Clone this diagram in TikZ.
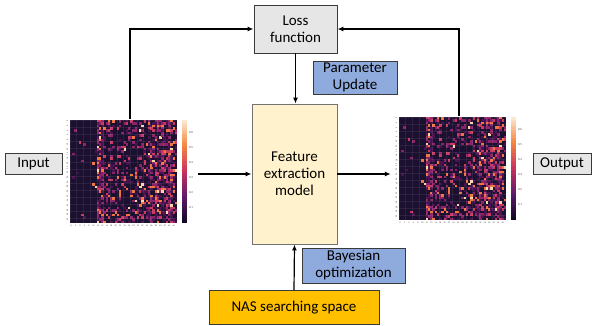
\documentclass[tikz,border=0pt]{standalone}
\usepackage{fontspec}
\setmainfont{Carlito}
\usetikzlibrary{arrows.meta}

\definecolor{lossgray}{HTML}{E7E6E6}
\definecolor{parblue}{HTML}{8FAADC}
\definecolor{featcream}{HTML}{FFF2CC}
\definecolor{nasorange}{HTML}{FFC000}
\definecolor{edgegray}{HTML}{3A3A3A}
% heatmap colours
\definecolor{hm0}{HTML}{1C1030}
\definecolor{hm1}{HTML}{4A1250}
\definecolor{hm2}{HTML}{8C2369}
\definecolor{hm3}{HTML}{C8385F}
\definecolor{hm4}{HTML}{EE7440}
\definecolor{hm5}{HTML}{FAD6A6}
% colour bar stops
\definecolor{cb0}{HTML}{FCEBD6}
\definecolor{cb1}{HTML}{F3863F}
\definecolor{cb2}{HTML}{C8305E}
\definecolor{cb3}{HTML}{5E1A6B}
\definecolor{cb4}{HTML}{10081F}

% one heatmap with its colour bar, top left corner at #1
\newcommand{\drawheatmap}[1]{%
  \begin{scope}[shift={(#1)}]
    \pgfmathsetseed{1234}
    \fill[hm0] (0,0) rectangle (107,103);
    \foreach \c in {0,...,47}{
      \pgfmathsetmacro{\p}{ifthenelse(\c<12,0.02,ifthenelse(\c<15,0.75,ifthenelse(\c<35,0.3,ifthenelse(\c<46,0.6,0.3))))}
      \foreach \r in {0,...,43}{
        \pgfmathsetmacro{\s}{rnd}
        \pgfmathsetmacro{\t}{rnd}
        \pgfmathtruncatemacro{\k}{\s<\p ? (\t<0.35 ? 1 : (\t<0.65 ? 2 : (\t<0.85 ? 3 : (\t<0.97 ? 4 : 5)))) : 0}
        \ifnum\k>0
          \fill[hm\k] ({\c*107/48},{\r*103/44}) rectangle ++({107/48+0.2},{103/44+0.2});
        \fi
      }
    }
    % faint grid
    \foreach \c in {0,3,...,48}
      \draw[gridline] ({\c*107/48},0) -- ++(0,103);
    \foreach \r in {0,3,...,42}
      \draw[gridline] (0,{\r*103/44}) -- ++(107,0);
    % tick labels
    \foreach \c in {0,2,...,46}
      \node[ticklbl] at ({(\c+0.5)*107/48},106) {\c};
    \foreach \r in {0,2,...,42}
      \node[ticklbl, rotate=90] at (-2.5,{(\r+0.5)*103/44}) {\r};
    % colour bar
    \foreach \seg/\ca/\cb in {0/cb0/cb1,1/cb1/cb2,2/cb2/cb3,3/cb3/cb4}{
      \foreach \i in {0,...,9}{
        \pgfmathtruncatemacro{\pc}{95-\i*10}
        \fill[\ca!\pc!\cb] (112,{(\seg*10+\i)*103/40}) rectangle ++(5,{103/40+0.15});
      }
    }
    \foreach \v [count=\n] in {0.6,0.5,0.4,0.3,0.2,0.1}
      \node[barlbl] at (121,{12+(\n-1)*15.2}) {\v};
  \end{scope}}

\begin{document}
\begin{tikzpicture}[x=1pt, y=-1pt,
    box/.style={draw=edgegray, line width=0.9, inner sep=1, align=center,
      font=\fontsize{15}{17}\selectfont},
    greybox/.style={box, fill=lossgray},
    bluebox/.style={box, fill=parblue},
    figbox/.style={minimum width=136, minimum height=110, inner sep=0},
    flow/.style={line width=1.2, -{Latex[length=6,width=5]}},
    gridline/.style={white, opacity=0.07, line width=0.4},
    ticklbl/.style={inner sep=0, text=black!75, font=\fontsize{2.2}{2.2}\selectfont},
    barlbl/.style={inner sep=0, text=black!75, font=\fontsize{3}{3}\selectfont}]
	\useasboundingbox (0,0) rectangle (593,325);

	% Boxes
	\node[greybox, minimum width=83, minimum height=48] (loss) at (295.5,29) {Loss\\function};
	\node[bluebox, minimum width=84, minimum height=33] (param) at (355,77.5) {Parameter\\Update};
	\node[box, draw=black!55, fill=featcream, minimum width=85, minimum height=140] (feat) at (294.5,174) {Feature\\extraction\\model};
	\node[bluebox, minimum width=103, minimum height=35] (bayes) at (353.5,265.5) {Bayesian\\optimization};
	\node[box, fill=nasorange, minimum width=170, minimum height=34] (nas) at (294,307.5) {NAS searching space};
	\node[greybox, minimum width=57, minimum height=21] (input) at (33.5,163.5) {Input};
	\node[greybox, minimum width=58, minimum height=21] (output) at (562,163.5) {Output};

	% Heatmaps
	\node[figbox] (hmin) at (130,174) {};
	\node[figbox] (hmout) at (459,171) {};
	\drawheatmap{70,120}
	\drawheatmap{399,117}

	% Connectors
	\draw[flow] (hmin.north) |- (loss.west);
	\draw[flow] (hmout.north) |- (loss.east);
	\draw[flow] (loss.south) -- (loss.south |- feat.north);
	\draw[flow] (hmin.east |- feat.west) -- (feat.west);
	\draw[flow] (feat.east) -- (feat.east -| hmout.west);
	\draw[flow] (nas.north) -- (feat.south);
\end{tikzpicture}
\end{document}
